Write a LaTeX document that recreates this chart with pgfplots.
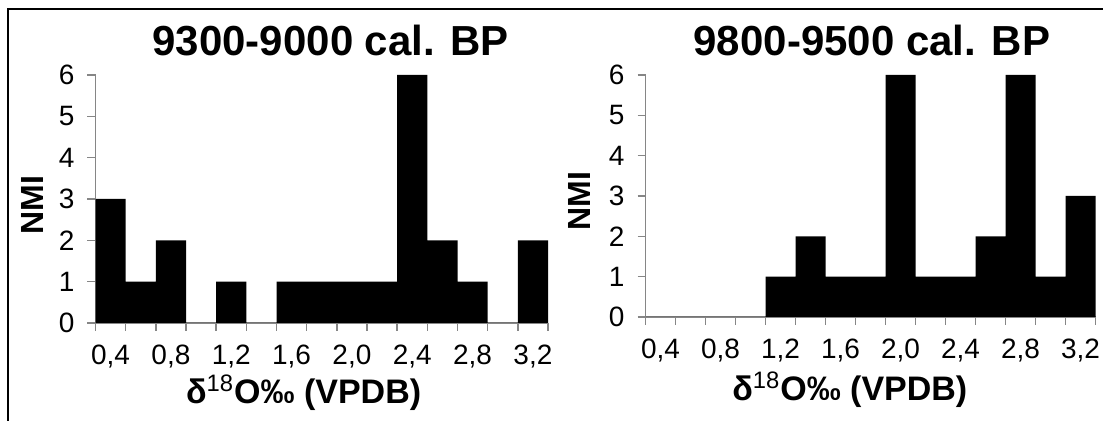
\documentclass[border=0pt]{standalone}
\usepackage{fontspec}
\setmainfont{Liberation Sans}
\usepackage{pgfplots}
\pgfplotsset{compat=1.18}
\definecolor{axgray}{RGB}{134,134,134}

% shared look of both histograms (Excel style, gap width 0)
\pgfplotsset{hist/.style={
  scale only axis, anchor=south west,
  ybar, bar width=1,
  xmin=-0.5, xmax=14.5, ymin=0, ymax=6,
  axis lines*=left,
  axis line style={axgray, line width=0.7pt},
  tick align=outside, major tick length=4pt, minor tick length=4pt,
  tick style={axgray, line width=0.7pt},
  every major x tick/.style={draw=none},
  xtick={0,2,...,14}, minor xtick={-0.5,0.5,...,14.5},
  xticklabels={{0,4},{0,8},{1,2},{1,6},{2,0},{2,4},{2,8},{3,2}},
  ytick={0,...,6},
  /pgf/number format/assume math mode=true,
  tick label style={font=\fontsize{14}{16}\selectfont},
  xticklabel style={anchor=base, yshift=-17pt},
  yticklabel style={anchor=east, xshift=-3pt},
  title style={font=\bfseries\fontsize{21}{25}\selectfont, anchor=base},
  xlabel={δ\textsuperscript{\mdseries 18}O‰ (VPDB)},
  ylabel={NMI},
  xlabel style={font=\bfseries\fontsize{17}{20}\selectfont, anchor=base},
  ylabel style={font=\bfseries\fontsize{16}{19}\selectfont, anchor=center},
}}

\begin{document}
\begin{tikzpicture}
\useasboundingbox (0,0) rectangle (551.5pt,210.5pt);
\draw[line width=0.6pt] (4pt,0) -- (4pt,206pt) -- (551.5pt,206pt);

\begin{axis}[hist,
  at={(47.75pt,49pt)}, width=226.25pt, height=124pt,
  title={9300-9000 cal. BP},
  title style={at={(0.52,1)}, yshift=3.5pt},
  xlabel style={at={(0.46,0)}, yshift=-40.5pt},
  ylabel style={at={(-0.1403,0.476)}},
]
\addplot[fill=black, draw=none] coordinates {
 (0,3) (1,1) (2,2) (3,0) (4,1) (5,0) (6,1) (7,1)
 (8,1) (9,1) (10,6) (11,2) (12,1) (13,0) (14,2)
};
\end{axis}

\begin{axis}[hist,
  at={(322.75pt,52pt)}, width=225pt, height=121pt,
  title={9800-9500 cal. BP},
  title style={at={(0.503,1)}, yshift=3.5pt},
  xlabel style={at={(0.454,0)}, yshift=-42pt},
  ylabel style={at={(-0.1456,0.48)}},
]
\addplot[fill=black, draw=none] coordinates {
 (0,0) (1,0) (2,0) (3,0) (4,1) (5,2) (6,1) (7,1)
 (8,6) (9,1) (10,1) (11,2) (12,6) (13,1) (14,3)
};
\end{axis}
\end{tikzpicture}
\end{document}
